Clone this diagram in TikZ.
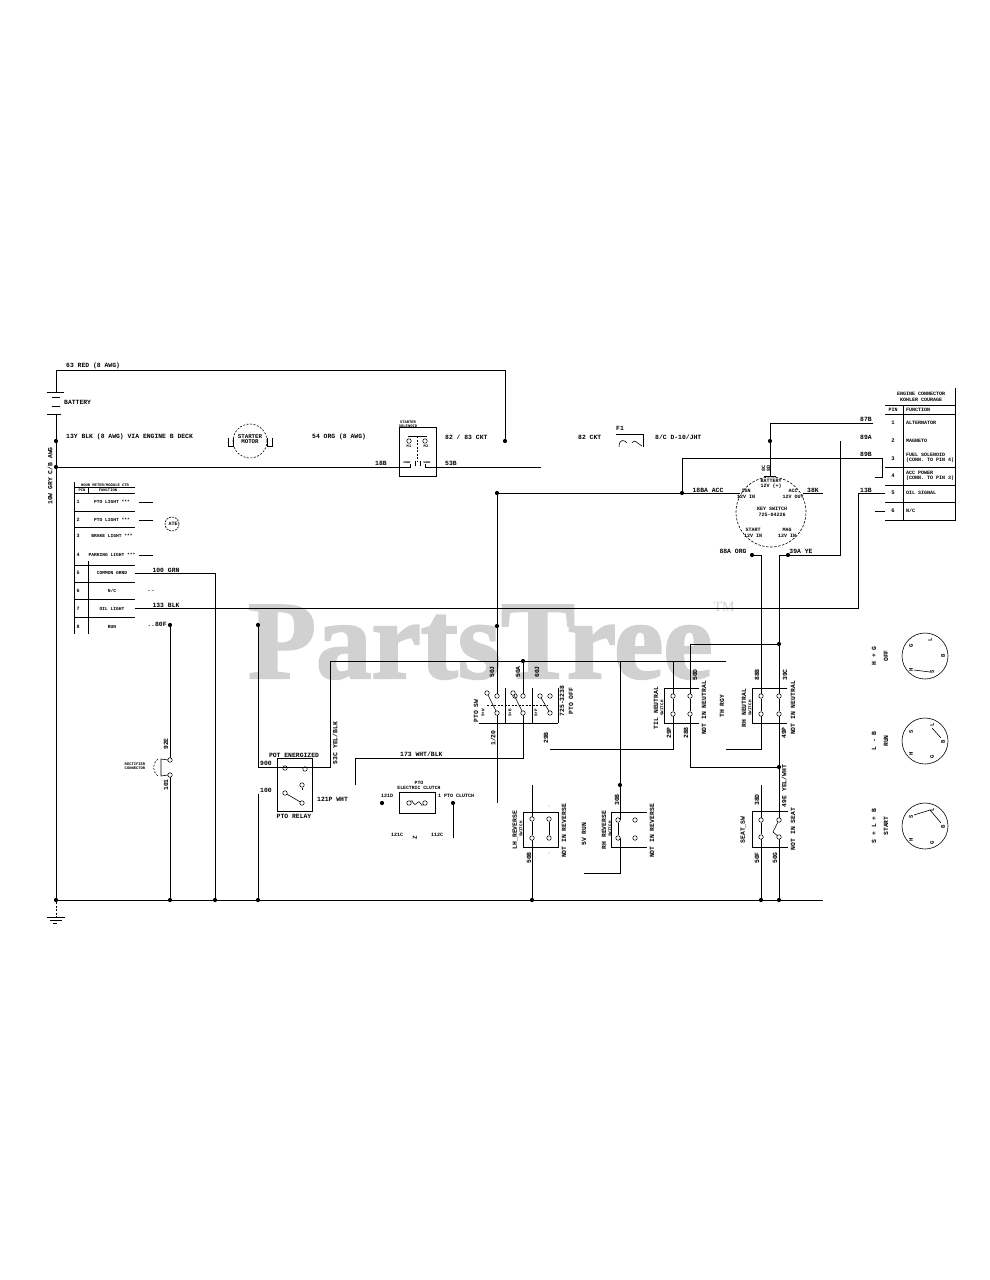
\documentclass[tikz,border=0pt]{standalone}
\usepackage{fontspec}
\setmainfont{Liberation Mono}
\newfontfamily\wmfont[FakeBold=2]{Liberation Serif Bold}
\newfontfamily\tmfont{Liberation Serif}
\begin{document}
\begin{tikzpicture}[x=1pt,y=-1pt,
  wire/.style={line width=0.85pt,black},
  thinw/.style={line width=0.6pt,black},
  dsh/.style={line width=0.6pt,black,dash pattern=on 2pt off 1.5pt},
  dot/.style={circle,fill=black,inner sep=0pt,minimum size=4.2pt},
  ct/.style={circle,draw=black,line width=0.55pt,fill=white,inner sep=0pt,minimum size=4.5pt},
  lab/.style={inner sep=0pt,font=\bfseries\fontsize{6.4}{7}\selectfont},
  rlab/.style={inner sep=0pt,rotate=90,font=\bfseries\fontsize{6.4}{7}\selectfont},
  sm/.style={inner sep=0pt,align=center,font=\bfseries\fontsize{5}{5.6}\selectfont},
  rsm/.style={inner sep=0pt,rotate=90,align=center,font=\bfseries\fontsize{4.2}{4.6}\selectfont},
  tiny/.style={inner sep=0pt,align=center,font=\bfseries\fontsize{3.8}{4.2}\selectfont},
  wm/.style={inner sep=0pt,text=black!18,anchor=base west,font=\wmfont\fontsize{111}{112}\selectfont}]
\useasboundingbox (0,0) rectangle (989,1280);
\fill[white] (0,0) rectangle (989,1280);
% watermark
\node[wm] (wmark) at (248,678) {PartsTree};
\node[inner sep=0pt,text=black!18,font=\tmfont\fontsize{14}{14}\selectfont] (wmtm) at (724,607) {TM};

% junctions
\foreach \n/\x/\y in {jA/505/441, jB/56/441, jC/56/467, jD/770/441, jE/682/493, jF/497/493,
  jG/497/626, jH/258/625, jI/170/625, jJ/523/661, jK/620/785, jL/779/644, jM/779/767,
  jN/170/900, jO/215/900, jP/258/900, jQ/532/900, jR/761/900, jS/779/900, jT/56/900,
  jU/752/555, jV/788/555, jW/382/803, jX/453/803}
  {\node[dot] (\n) at (\x,\y) {};}

% boxes
\node[draw,line width=.7pt,minimum width=37pt,minimum height=49pt,inner sep=0pt] (sol) at (417.5,451.5) {};
\node[draw,line width=.7pt,minimum width=35pt,minimum height=53pt,inner sep=0pt] (relay) at (294.5,785) {};
\node[draw,line width=.7pt,minimum width=36pt,minimum height=21pt,inner sep=0pt] (clutch) at (417,802.5) {};
\node[draw,line width=.7pt,minimum width=35pt,minimum height=35pt,inner sep=0pt] (lhrev) at (540.5,829.5) {};
\draw[wire] (647,812) -| (611,847) -- (647,847);
\draw[wire] (699,688) -| (664,723) -- (699,723);
\draw[wire] (787,688) -| (752,723) -- (787,723);
\draw[wire] (788,811) -| (752,847) -- (788,847);

% main wires
\draw[wire] (jA) |- (56,370) -- (56,392);
\draw[wire] (56,414) -- (jB) -- (jC) -- (jT);
\draw[wire] (jC) -- (399,467);
\draw[wire] (436,467) -- (541,467);
\draw[wire] (jT) -- (823,900);
\draw[wire] (770,423) -- (873,423);
\draw[wire] (770,423) -- (jD) -- (770,476);
\draw[wire] (764,476) -- (776,476);
\draw[wire] (jE) |- (882,458) |- (875,477);
\draw[wire] (jF) -- (740,493);
\draw[wire] (803,493) -- (823,493);
\draw[wire] (jF) -- (jG) -- (497,696);
\draw[wire] (497,713) -- (497,803);
\draw[wire] (840,441) |- (jV);
\draw[wire] (jV) -- (779,555) -- (jL) -- (779,696);
\draw[wire] (jU) -- (761,555) -- (761,696);
\draw[wire] (135,608) -| (858,493) -- (885,493);
\draw[wire] (875,511) -- (885,511);
\draw[wire] (135,573) -| (jO);
\draw[wire] (139,502) -- (153,502);
\draw[wire] (139,520) -- (153,520);
\draw[wire] (139,555) -- (153,555);
\draw[wire] (jI) -- (170,760);
\draw[wire] (170,775) -- (jN);
\draw[wire] (jH) |- (283,767);
\draw[wire] (308,767) -| (330,661) -- (726,661);
\draw[wire] (258,794) -- (jP);
\draw[wire] (355,785) |- (523,758) -- (523,713);
\draw[wire] (jJ) -- (523,696);
\draw[wire] (620,661) -- (jK) -- (620,820);
\draw[wire] (584,873) -- (620,873) -- (620,838);
\draw[wire] (532,785) -- (532,819);
\draw[wire] (532,838) -- (jQ);
\draw[wire] (673,661) -- (673,696);
\draw[wire] (673,714) -- (673,749) -- (550,749);
\draw[wire] (761,714) -- (761,749) -- (726,749);
\draw[wire] (690,696) -- (690,644) -- (jL);
\draw[wire] (690,714) |- (jM);
\draw[wire] (779,714) -- (jM) -- (779,820);
\draw[wire] (761,785) -- (761,820);
\draw[wire] (761,837) -- (jR);
\draw[wire] (779,837) -- (jS);
\draw[wire] (jX) -- (453,838);

% battery
\draw[wire] (47,392) -- (64,392);
\draw[wire] (52,397) -- (60,397);
\draw[wire] (52,406) -- (60,406);
\draw[wire] (47,414) -- (61,414);
\node[lab,anchor=west] (batt) at (64,402) {BATTERY};
% ground
\draw[dsh] (jT) -- (56,917);
\draw[wire] (47,917) -- (65,917);
\draw[wire] (50,920) -- (62,920);
\draw[wire] (53,923) -- (57,923);
% starter
\node[circle,draw,line width=.6pt,dash pattern=on 2pt off 1.5pt,minimum size=34pt,inner sep=0pt] (starter) at (250,441) {};
\node[sm,font=\bfseries\fontsize{5.8}{5.6}\selectfont] (startertxt) at (250,439) {STARTER\\MOTOR};
\draw[thinw] (228,438) |- (233,446) -- (233,438);
\draw[thinw] (267,438) |- (272,446) -- (272,438);
% labels top
\node[lab,anchor=west] (l1) at (66,366) {63 RED (8 AWG)};
\node[lab,anchor=west] (l2) at (66,437) {13Y BLK (8 AWG) VIA ENGINE B DECK};
\node[lab,anchor=west] (l3) at (312,437) {54 ORG (8 AWG)};
\node[rlab] (l4) at (50,476) {10W GRY C/B AWG};
\node[lab,anchor=west] (l5) at (445,437) {82 / 83 CKT};
\node[lab,anchor=west] (l6) at (578,437) {82 CKT};
\node[lab,anchor=west] (l7) at (655,437) {8/C D-10/JHT};
\node[lab] (l8) at (381,463) {18B};
\node[lab] (l9) at (451,463) {53B};
% solenoid
\node[tiny] (soltxt) at (408,424) {STARTER\\SOLENOID};
\draw[thinw] (408,436) -- (427,436);
\draw[dsh] (417,436) -- (417,462);
\node[ct] (sc1) at (409,441) {};
\node[ct] (sc2) at (425,441) {};
\node[tiny] (m1) at (409,446) {M1};
\node[tiny] (m2) at (426,446) {M2};
\node[tiny] (cw1) at (407,462) {www};
\node[tiny] (cw2) at (427,462) {www};
\draw[thinw] (399,467) -- (410,467) -- (410,464);
\draw[thinw] (436,467) -- (425,467) -- (425,464);
\draw[wire] (415,461) -- (415,466);
\draw[wire] (420,461) -- (420,466);
% fuse
\node[lab] (f1) at (620,428) {F1};
\draw[thinw] (616,434) -- (643,434) -- (643,447);
\draw[thinw] (619,447) .. controls (619,438) and (625,440) .. (627,443);
\draw[thinw] (632,443) .. controls (634,438) and (638,444) .. (642,446);
% left table
\draw[wire] (74,482) -- (74,634);
\draw[wire] (88,561) -- (88,634);
\draw[wire] (88,487) -- (88,493);
\foreach \y in {487,493,511,527,565,582,599,617} {\draw[thinw] (74,\y) -- (135,\y);}
\node[tiny] (t0) at (105,485) {HOUR METER/MODULE CTR};
\node[tiny] (t0a) at (82,490) {PIN};
\node[tiny] (t0b) at (108,490) {FUNCTION};
\foreach \n/\t/\y in {1/PTO LIGHT ***/502,2/PTO LIGHT ***/520,3/BRAKE LIGHT ***/536,4/PARKING LIGHT ***/555,5/COMMON GRND/573,6/{N/C}/591,7/OIL LIGHT/609,8/RUN/627}
  {\node[tiny,font=\bfseries\fontsize{4.6}{5}\selectfont] (ta\n) at (112,\y) {\t};
   \node[tiny,font=\bfseries\fontsize{5}{5}\selectfont] (tn\n) at (78,\y) {\n};}
\node[circle,draw,dash pattern=on 2pt off 1pt,line width=.6pt,minimum size=14pt,inner sep=0pt] (te) at (172,524) {};
\node[tiny,font=\bfseries\fontsize{5}{5}\selectfont] (tetx) at (173,524) {ATE};
\node[lab] (l10) at (166,570) {100 GRN};
\node[lab] (l11) at (166,605) {133 BLK};
\node[lab] (l12) at (151,591) {..};
\node[lab] (l13) at (157,624) {..80F};
% seat/hour sensor
\node[ct] (hs1) at (170,760) {};
\node[ct] (hs2) at (170,775) {};
\draw[thinw] (168,760) -- (161,759) -- (161,776) -- (168,775);
\draw[dsh] (158,759) .. controls (152,764) and (152,771) .. (158,776);
\node[tiny] (hst) at (135,766) {RECTIFIER\\CONNECTOR};
\node[rlab] (l14) at (166,744) {92E};
\node[rlab] (l15) at (166,785) {101};
% relay
\node[ct] (rc1) at (285,768) {};
\node[ct] (rc2) at (305,769) {};
\draw[thinw] (283,767) -- (308,767);
\node[ct] (rc3) at (302,785) {};
\node[ct] (rc4) at (285,793) {};
\node[ct] (rc5) at (302,803) {};
\draw[thinw] (rc4) -- (rc5);
\draw[thinw] (rc3) -- (302,790);
\node[lab] (l16) at (294,755) {POT ENERGIZED};
\node[lab] (l17) at (294,816) {PTO RELAY};
\node[lab] (l18) at (266,763) {900};
\node[lab] (l19) at (266,790) {100};
\node[lab,anchor=west] (l20) at (317,799) {121P WHT};
\node[rlab] (l21) at (335,743) {53C YEL/BLK};
\node[lab,anchor=west] (l22) at (400,754) {173 WHT/BLK};
% clutch
\node[tiny,font=\bfseries\fontsize{4.8}{5}\selectfont] (ct1) at (419,785) {PTO\\ELECTRIC CLUTCH};
\node[ct] (cc1) at (409,803) {};
\node[ct] (cc2) at (425,803) {};
\draw[thinw] (cc1) .. controls (413,798) and (413,808) .. (417,803) .. controls (420,798) and (421,808) .. (cc2);
\node[sm] (l23) at (387,796) {121D};
\node[sm,anchor=west] (l24) at (438,796) {1 PTO CLUTCH};
\node[sm] (l25) at (397,835) {121C};
\node[sm] (l26) at (437,835) {112C};
\node[sm,font=\bfseries\fontsize{6}{6}\selectfont,rotate=90] (l27) at (415,838) {Z};
% PTO switch
\draw[wire] (479,723) -- (558,723);
\foreach \x in {505,532,558} {\draw[thinw] (\x,688) -- (\x,723);}
\foreach \n/\x/\y in {a/497/696,b/487/693,c/515/696,d/523/696,e/513/693,f/540/696,g/550/696,h/497/713,i/523/713,j/550/713}
  {\node[ct] (p\n) at (\x,\y) {};}
\draw[thinw] (ph) -- (pb);
\draw[thinw] (pi) -- (pe);
\draw[thinw] (pj) -- (pf);
\draw[dsh] (487,705) -- (547,705);
\node[rlab] (l28) at (492,672) {50J};
\node[rlab] (l29) at (518,672) {50A};
\node[rlab] (l30) at (537,672) {60J};
\node[rlab] (l31) at (493,738) {1/20};
\node[rlab] (l32) at (546,738) {29B};
\node[rlab] (l33) at (476,711) {PTO SW};
\node[rsm] (l34) at (483,713) {S+W};
\node[rsm] (l35) at (510,713) {S+B};
\node[rsm] (l36) at (536,713) {S+P};
\node[rlab] (l37) at (562,701) {725-3238};
\node[rlab] (l38) at (571,701) {PTO OFF};
% LH reverse
\foreach \n/\x/\y in {a/532/819,b/532/838,c/549/819,d/549/838,e/618/820,f/618/838,g/635/820,h/635/838}
  {\node[ct] (r\n) at (\x,\y) {};}
\draw[thinw] (ra) -- (rb);
\draw[thinw] (rc) -- (rd);
\draw[thinw] (re) -- (rf);
\fill (549,806) circle (.4);
\fill (549,853) circle (.4);
\node[rlab] (l39) at (515,830) {LH\_REVERSE};
\node[rsm] (l40) at (521,829) {SWITCH};
\node[rlab] (l41) at (564,831) {NOT IN REVERSE};
\node[rlab] (l42) at (529,858) {50B};
\node[rlab] (l43) at (584,834) {5V RUN};
\node[rlab] (l44) at (604,830) {RH REVERSE};
\node[rsm] (l45) at (610,829) {SWITCH};
\node[rlab] (l46) at (652,831) {NOT IN REVERSE};
\node[rlab] (l47) at (617,800) {30B};
% neutrals
\foreach \n/\x/\y in {a/673/696,b/673/714,c/690/696,d/690/714,e/761/696,f/761/714,g/779/696,h/779/714,i/761/820,j/761/837,k/779/820,m/779/837}
  {\node[ct] (n\n) at (\x,\y) {};}
\draw[thinw] (nb) -- (na);
\draw[thinw] (nc) -- (nd);
\draw[thinw] (nf) -- (ne);
\draw[thinw] (ng) -- (nh);
\draw[thinw] (ni) -- (nj);
\draw[thinw] (nk) -- (773,832) -- (nm);
\node[rlab] (l48) at (656,708) {TIL NEUTRAL};
\node[rsm] (l49) at (662,708) {SWITCH};
\node[rlab] (l50) at (704,708) {NOT IN NEUTRAL};
\node[rlab] (l51) at (695,675) {50D};
\node[rlab] (l52) at (686,733) {28B};
\node[rlab] (l53) at (669,733) {29P};
\node[rlab] (l54) at (722,706) {TH RGY};
\node[rlab] (l55) at (744,708) {RH NEUTRAL};
\node[rsm] (l56) at (750,708) {SWITCH};
\node[rlab] (l57) at (793,708) {NOT IN NEUTRAL};
\node[rlab] (l58) at (757,675) {88B};
\node[rlab] (l59) at (785,675) {39C};
\node[rlab] (l60) at (784,733) {49P};
\node[rlab] (l61) at (784,786) {49E YEL/WHT};
\node[rlab] (l62) at (743,830) {SEAT\_SW};
\node[rlab] (l63) at (793,829) {NOT IN SEAT};
\node[rlab] (l64) at (757,800) {38D};
\node[rlab] (l65) at (757,858) {50F};
\node[rlab] (l66) at (775,858) {50G};
% key switch
\node[circle,draw,line width=.6pt,dash pattern=on 2.5pt off 1.5pt,minimum size=70pt,inner sep=0pt] (key) at (771,512) {};
\node[sm] (k1) at (771,484) {BATTERY\\12V (+)};
\node[sm] (k2) at (746,494) {IGN\\12V IN};
\node[sm] (k3) at (793,494) {ACC\\12V OUT};
\node[sm] (k4) at (772,512) {KEY SWITCH\\725-04226};
\node[sm] (k5) at (753,533) {START\\12V IN};
\node[sm] (k6) at (787,533) {MAG\\12V IN};
\node[rsm,font=\bfseries\fontsize{5}{5}\selectfont] (k7) at (766,468) {8C\\8D};
\node[lab] (l67) at (708,490) {18BA ACC};
\node[lab] (l68) at (813,490) {38K};
\node[lab] (l69) at (733,551) {88A ORG};
\node[lab] (l70) at (801,551) {39A YE};
\node[lab] (l71) at (866,419) {87B};
\node[lab] (l72) at (866,437) {89A};
\node[lab] (l73) at (866,454) {89B};
\node[lab] (l74) at (866,490) {13B};
% right table
\draw[wire] (955,388) -- (955,520) -- (885,520);
\draw[wire] (903,405) -- (903,520);
\foreach \y in {405,414,467,485,502} {\draw[thinw] (885,\y) -- (955,\y);}
\node[sm] (c0) at (921,394) {ENGINE CONNECTOR};
\node[sm] (c00) at (921,400) {KOHLER COURAGE};
\node[sm] (c1) at (893,410) {PIN};
\node[sm,anchor=west] (c2) at (906,410) {FUNCTION};
\foreach \n/\y in {1/423,2/441,3/459,4/476,5/493,6/511} {\node[sm,font=\bfseries\fontsize{5.5}{6}\selectfont] (cn\n) at (893,\y) {\n};}
\node[sm,anchor=west] (r1) at (906,423) {ALTERNATOR};
\node[sm,anchor=west] (r2) at (906,441) {MAGNETO};
\node[sm,anchor=west,align=left] (r3) at (906,458) {FUEL SOLENOID\\(CONN. TO PIN 4)};
\node[sm,anchor=west,align=left] (r4) at (906,476) {ACC POWER\\(CONN. TO PIN 3)};
\node[sm,anchor=west] (r5) at (906,493) {OIL SIGNAL};
\node[sm,anchor=west] (r6) at (906,511) {N/C};
% circles
\foreach \c/\y in {ca/656,cb/741,cc/826} {\node[circle,draw,line width=.6pt,minimum size=46pt,inner sep=0pt] (\c) at (925,\y) {};}
\foreach \n/\t/\x/\y in {a/G/911/646,b/L/930/640,c/B/943/656,d/S/932/672,e/H/911/670,
 f/S/911/732,g/L/932/725,h/B/943/742,i/G/932/757,j/H/911/754,
 k/S/911/817,m/L/932/810,n/B/943/827,o/G/932/843,p/H/911/840}
 {\node[rlab,font=\bfseries\fontsize{5.5}{6}\selectfont] (q\n) at (\x,\y) {\t};}
\draw[thinw] (914,670) -- (930,672);
\draw[thinw] (932,728) -- (941,738);
\draw[thinw] (914,815) -- (930,810) -- (941,823);
\node[rlab] (s1) at (874,656) {H + G};
\node[rlab] (s2) at (886,656) {OFF};
\node[rlab] (s3) at (874,741) {L - B};
\node[rlab] (s4) at (886,741) {RUN};
\node[rlab] (s5) at (874,826) {S + L + B};
\node[rlab] (s6) at (886,826) {START};
\end{tikzpicture}
\end{document}
